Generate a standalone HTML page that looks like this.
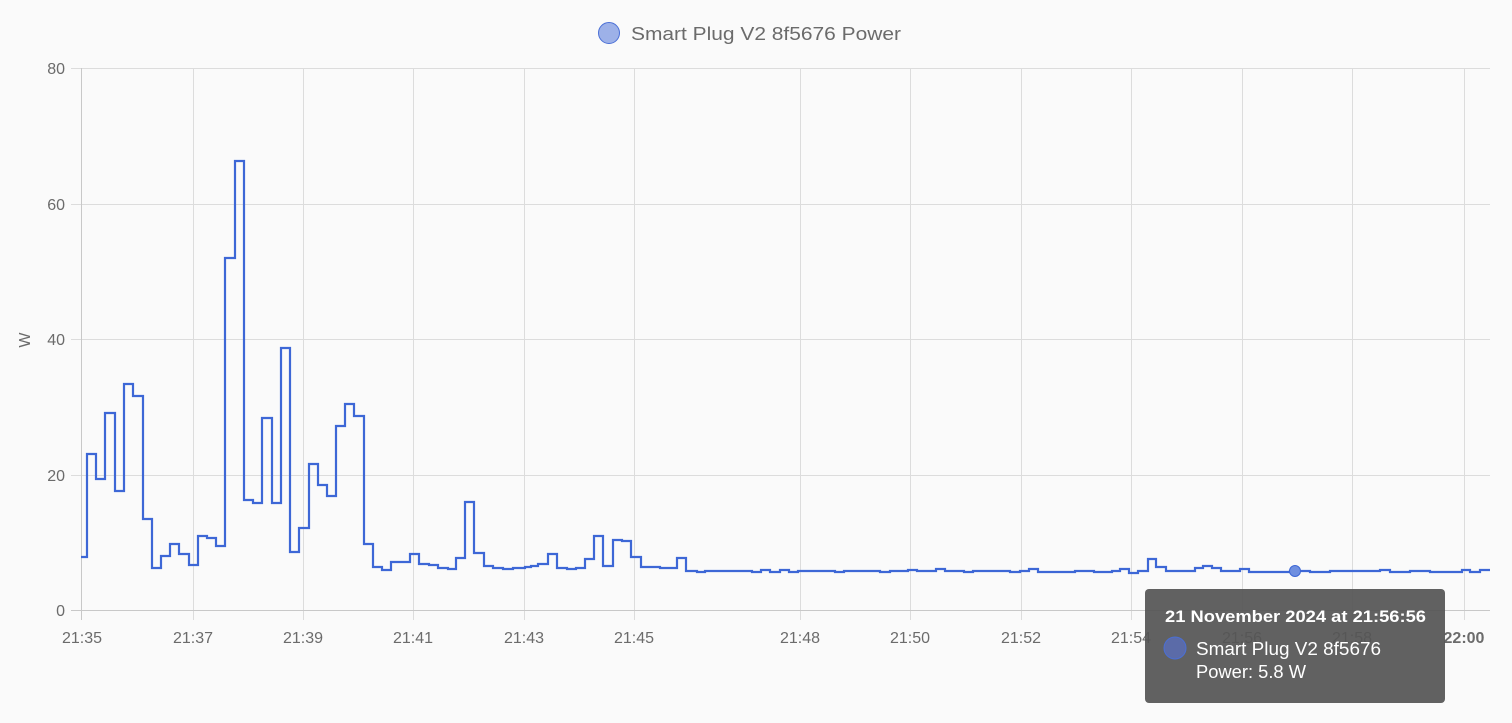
<!DOCTYPE html>
<html><head><meta charset="utf-8"><style>
html,body{margin:0;padding:0;background:#fafafa;}
svg{display:block;font-family:"Liberation Sans",sans-serif;}
</style></head><body>
<svg width="1512" height="723" viewBox="0 0 1512 723" xmlns="http://www.w3.org/2000/svg">
<rect width="1512" height="723" fill="#fafafa"/>
<g stroke="#dcdcdc" stroke-width="1">
<line x1="71" y1="68.5" x2="1490" y2="68.5"/>
<line x1="71" y1="204.5" x2="1490" y2="204.5"/>
<line x1="71" y1="339.5" x2="1490" y2="339.5"/>
<line x1="71" y1="475.5" x2="1490" y2="475.5"/>
<line x1="193.5" y1="68" x2="193.5" y2="620"/>
<line x1="303.5" y1="68" x2="303.5" y2="620"/>
<line x1="413.5" y1="68" x2="413.5" y2="620"/>
<line x1="524.5" y1="68" x2="524.5" y2="620"/>
<line x1="634.5" y1="68" x2="634.5" y2="620"/>
<line x1="800.5" y1="68" x2="800.5" y2="620"/>
<line x1="910.5" y1="68" x2="910.5" y2="620"/>
<line x1="1021.5" y1="68" x2="1021.5" y2="620"/>
<line x1="1131.5" y1="68" x2="1131.5" y2="620"/>
<line x1="1242.5" y1="68" x2="1242.5" y2="620"/>
<line x1="1352.5" y1="68" x2="1352.5" y2="620"/>
<line x1="1464.5" y1="68" x2="1464.5" y2="620"/>
</g>
<line x1="71" y1="610.5" x2="1490" y2="610.5" stroke="#c8c8c8"/>
<line x1="81.5" y1="68" x2="81.5" y2="620" stroke="#c8c8c8"/>
<g fill="#6b6b6b" font-size="16" text-anchor="end">
<text x="65" y="74">80</text>
<text x="65" y="210">60</text>
<text x="65" y="345">40</text>
<text x="65" y="481">20</text>
<text x="65" y="616">0</text>
</g>
<text x="30" y="340" fill="#6b6b6b" font-size="16" text-anchor="middle" transform="rotate(-90 30 340)">W</text>
<g fill="#6b6b6b" font-size="16" text-anchor="middle">
<text x="82" y="643">21:35</text>
<text x="193" y="643">21:37</text>
<text x="303" y="643">21:39</text>
<text x="413" y="643">21:41</text>
<text x="524" y="643">21:43</text>
<text x="634" y="643">21:45</text>
<text x="800" y="643">21:48</text>
<text x="910" y="643">21:50</text>
<text x="1021" y="643">21:52</text>
<text x="1131" y="643">21:54</text>
<text x="1242" y="643">21:56</text>
<text x="1352" y="643">21:58</text>
<text x="1464" y="643" font-weight="bold">22:00</text>
</g>
<circle cx="609" cy="33" r="10.5" fill="#9db1e8" stroke="#4a6fd6" stroke-width="1"/>
<text x="631" y="40" fill="#6b6b6b" font-size="18" textLength="270" lengthAdjust="spacingAndGlyphs">Smart Plug V2 8f5676 Power</text>
<path fill="none" stroke="#3d67d6" stroke-width="2.2" d="M81,557 H87 V454 H96 V479 H105 V413 H115 V491 H124 V384 H133 V396 H143 V519 H152 V568 H161 V556 H170 V544 H179 V554 H189 V565 H198 V536 H207 V538 H216 V546 H225 V258 H235 V161 H244 V500 H253 V503 H262 V418 H272 V503 H281 V348 H290 V552 H299 V528 H309 V464 H318 V485 H327 V496 H336 V426 H345 V404 H354 V416 H364 V544 H373 V567 H382 V570 H391 V562 H410 V554 H419 V564 H429 V565 H438 V568 H448 V569 H456 V558 H465 V502 H474 V553 H484 V566 H493 V568 H503 V569 H513 V568 H525 V567 H531 V566 H538 V564 H548 V554 H557 V568 H567 V569 H576 V568 H585 V559 H594 V536 H603 V566 H613 V540 H622 V541 H631 V557 H641 V567 H660 V568 H677 V558 H686 V571 H697 V572 H705 V571 H752 V572 H761 V570 H770 V572 H780 V570 H789 V572 H798 V571 H835 V572 H844 V571 H880 V572 H890 V571 H908 V570 H917 V571 H936 V569 H945 V571 H964 V572 H973 V571 H1010 V572 H1020 V571 H1029 V569 H1038 V572 H1075 V571 H1094 V572 H1112 V571 H1120 V569 H1129 V573 H1138 V571 H1148 V559 H1156 V567 H1166 V571 H1195 V568 H1203 V566 H1212 V568 H1221 V571 H1240 V569 H1249 V572 H1290 V571 H1310 V572 H1330 V571 H1380 V570 H1390 V572 H1410 V571 H1430 V572 H1462 V570 H1470 V572 H1480 V570 H1490"/>
<circle cx="1295" cy="571" r="5.5" fill="#6f8fe0" stroke="#3d67d6" stroke-width="1"/>
<rect x="1145" y="589" width="300" height="114" rx="4" fill="rgba(85,85,85,0.93)"/>
<text x="1165" y="622" fill="#fff" font-size="17" font-weight="bold" textLength="261" lengthAdjust="spacingAndGlyphs">21 November 2024 at 21:56:56</text>
<circle cx="1175" cy="648" r="11" fill="#5b6ba8" stroke="#4a6fd6" stroke-width="1"/>
<text x="1196" y="655" fill="#fff" font-size="18" textLength="185" lengthAdjust="spacingAndGlyphs">Smart Plug V2 8f5676</text>
<text x="1196" y="678" fill="#fff" font-size="18" textLength="110" lengthAdjust="spacingAndGlyphs">Power: 5.8 W</text>
</svg>
</body></html>
